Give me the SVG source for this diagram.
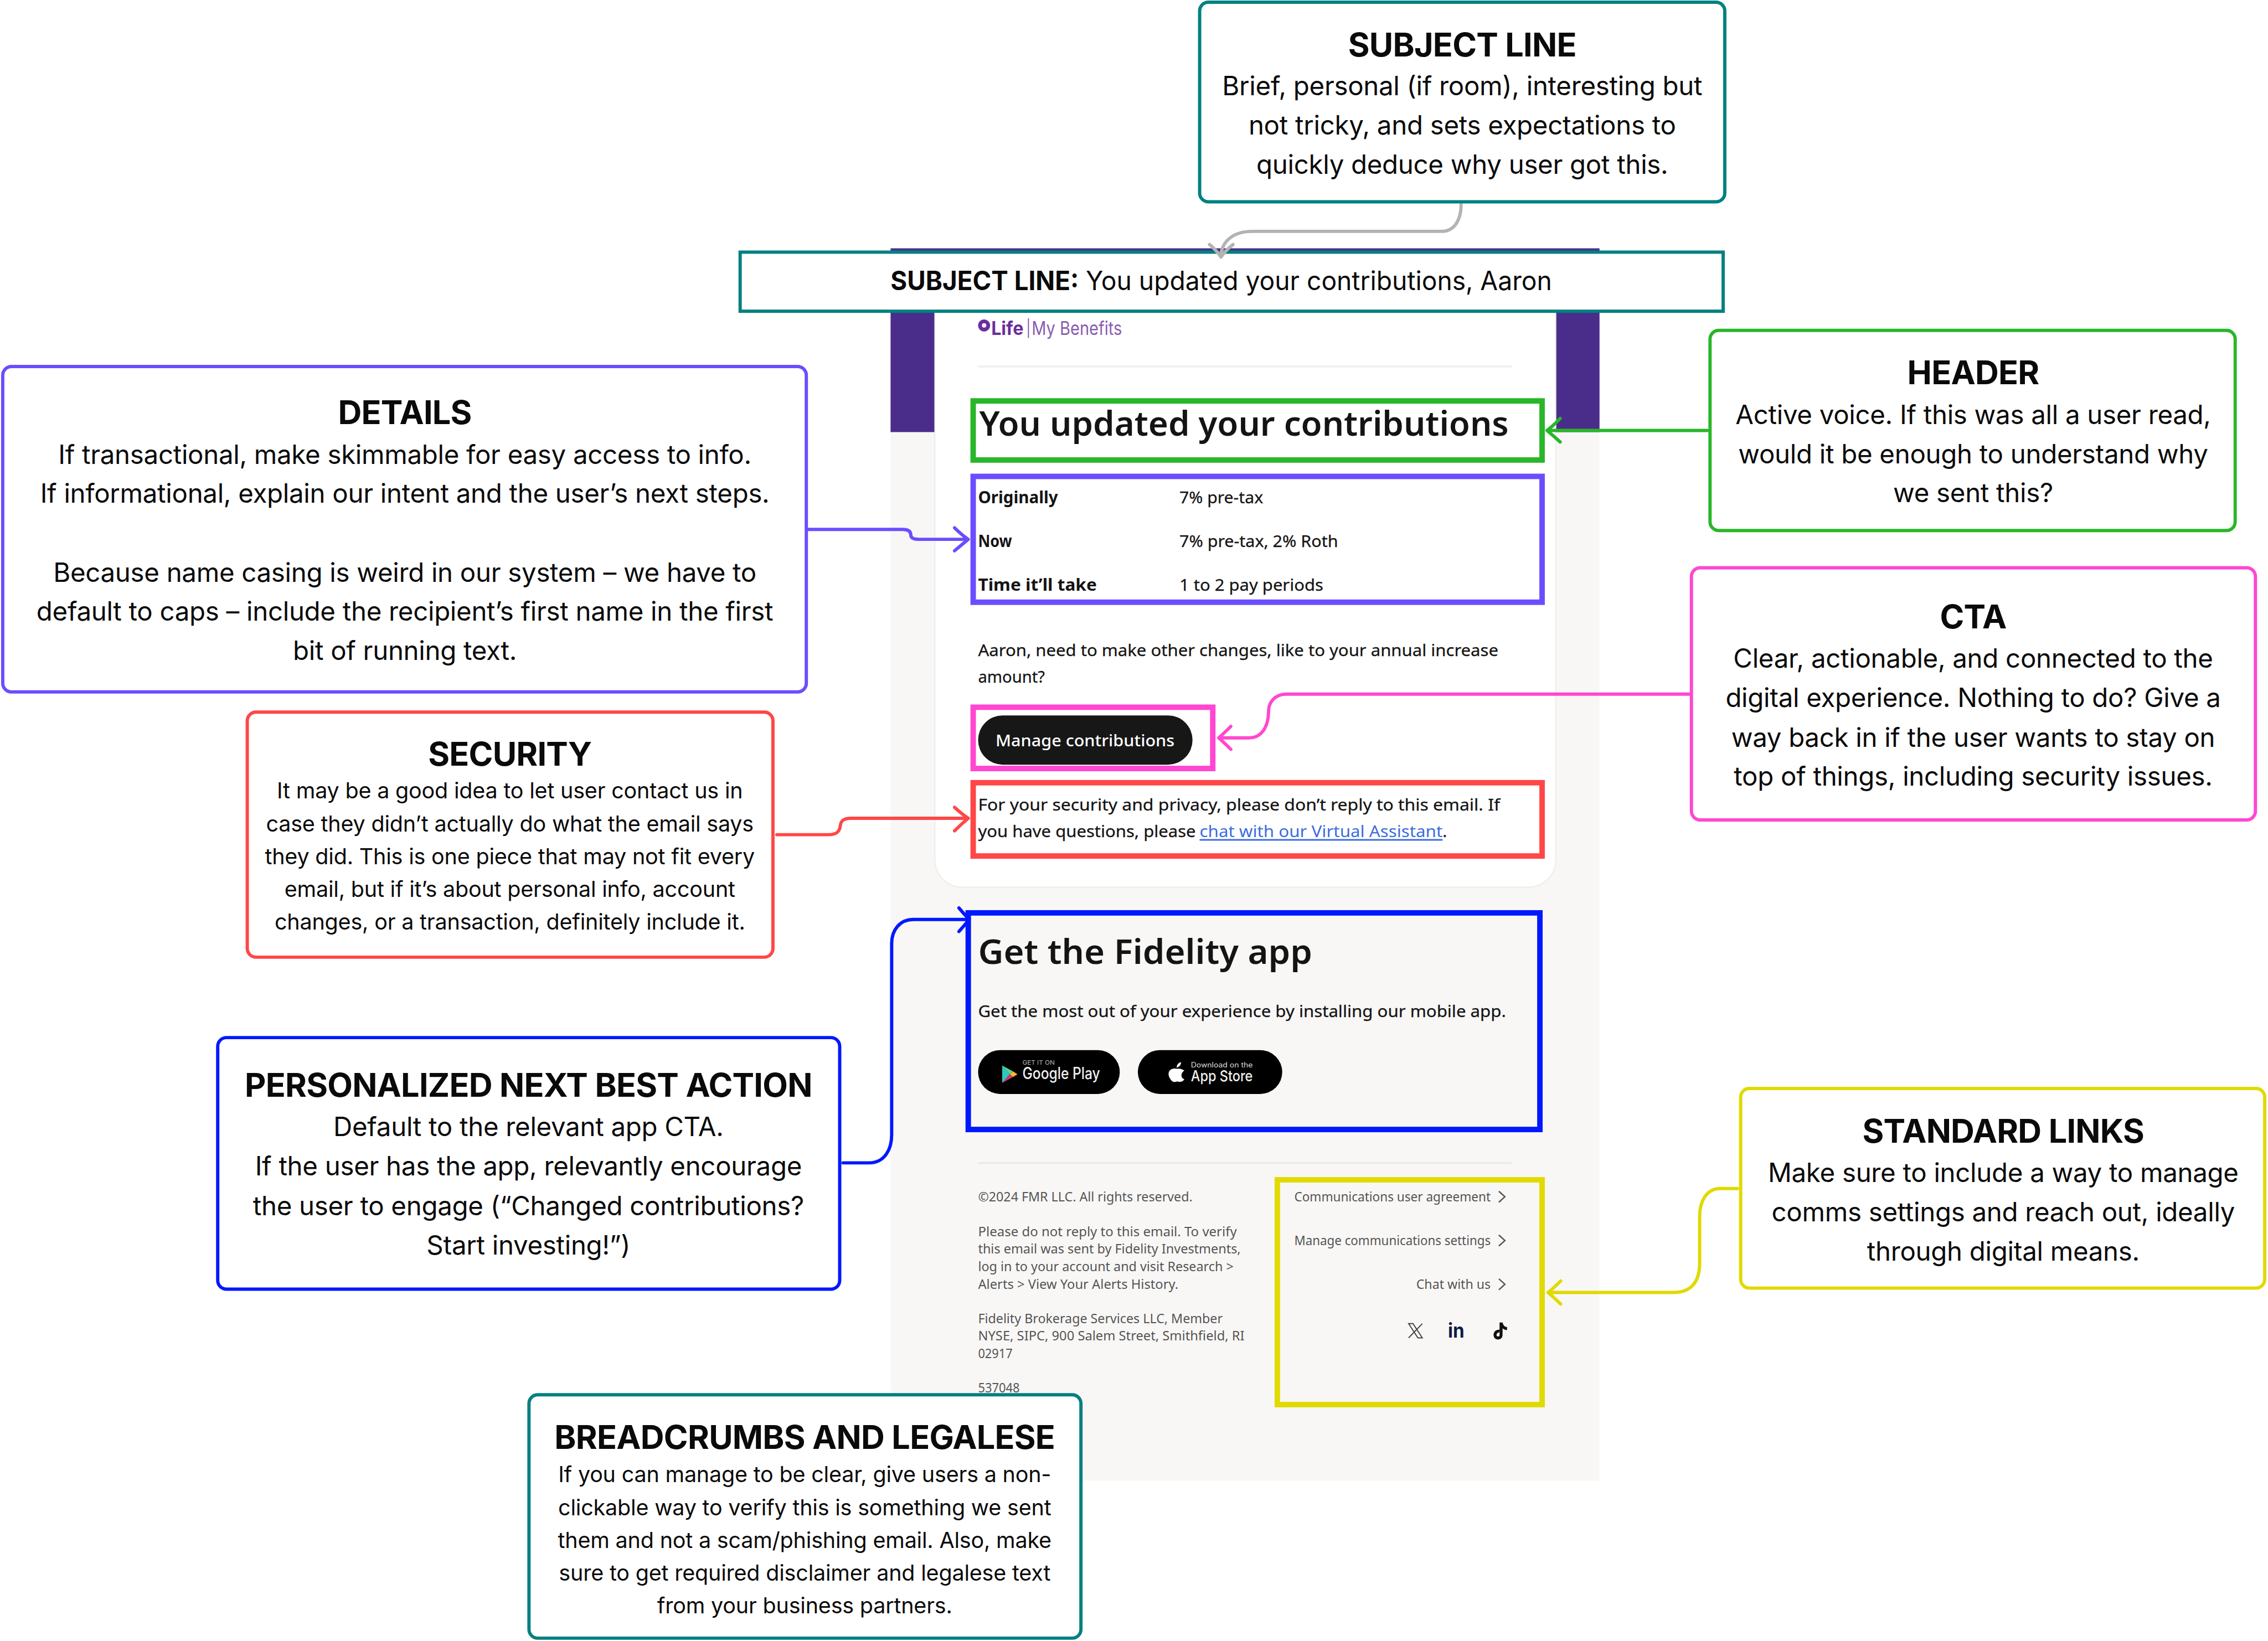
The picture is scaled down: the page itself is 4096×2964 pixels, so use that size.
<svg xmlns="http://www.w3.org/2000/svg" width="4096" height="2964" viewBox="0 0 4096 2964">
<style>
.c{font-family:"Inter","Liberation Sans",sans-serif;fill:#0a0a0a;text-anchor:middle}
.t{font-size:60px;font-weight:700;letter-spacing:-.75px}
.b{font-size:48px;font-weight:400;letter-spacing:-.3px}
.s{font-size:40px;font-weight:400;letter-spacing:-.2px}
.e{font-family:"Noto Sans","DejaVu Sans",sans-serif;fill:#141414}
.h1{font-size:62px;font-weight:600}
.r{font-size:30px;stroke:#141414;stroke-width:.3px}
.rb{font-size:30px;font-weight:700}
.f{font-size:23px;fill:#555}
.box{fill:#fff;stroke-width:6}
.hl{fill:none;stroke-width:10}
.cn{fill:none;stroke-width:6;stroke-linecap:round;stroke-linejoin:round}
.chev{fill:none;stroke:#555;stroke-width:2.5}
</style>
<rect width="4096" height="2964" fill="#fff"/>
<g transform="scale(0.98794)">
<g id="email">
<rect x="1628" y="790" width="1296" height="1917" fill="#f8f7f6"/>
<rect x="1628" y="454" width="1296" height="336" fill="#4a2d8a"/>
<rect x="1709" y="500" width="1135" height="1122" rx="50" fill="#fff" stroke="#ececec" stroke-width="2"/>
<g id="logo">
<circle cx="1799" cy="595" r="11" fill="#6a2f9e"/>
<circle cx="1799" cy="595" r="4" fill="#fff"/>
<text x="1812" y="612" font-family="Inter,sans-serif" font-size="34" font-weight="700" fill="#6a2f9e" textLength="59" lengthAdjust="spacingAndGlyphs">Life</text>
<rect x="1879" y="582" width="2" height="36" fill="#8a5cb0"/>
<text x="1886" y="612" font-family="Inter,sans-serif" font-size="34" fill="#8a5cb0" textLength="165" lengthAdjust="spacingAndGlyphs">My Benefits</text>
</g>
<rect x="1788" y="668" width="976" height="4" fill="#f0f0f0"/>
<text class="e h1" x="1790" y="797" textLength="968" lengthAdjust="spacingAndGlyphs">You updated your contributions</text>
<text class="e rb" x="1788" y="920" textLength="146" lengthAdjust="spacingAndGlyphs">Originally</text>
<text class="e r" x="2156" y="920" textLength="153" lengthAdjust="spacingAndGlyphs">7% pre-tax</text>
<text class="e rb" x="1788" y="1000" textLength="62" lengthAdjust="spacingAndGlyphs">Now</text>
<text class="e r" x="2156" y="1000" textLength="290" lengthAdjust="spacingAndGlyphs">7% pre-tax, 2% Roth</text>
<text class="e rb" x="1788" y="1080" textLength="217" lengthAdjust="spacingAndGlyphs">Time it’ll take</text>
<text class="e r" x="2156" y="1080" textLength="263" lengthAdjust="spacingAndGlyphs">1 to 2 pay periods</text>
<text class="e r" x="1788" y="1199" textLength="951" lengthAdjust="spacingAndGlyphs">Aaron, need to make other changes, like to your annual increase</text>
<text class="e r" x="1788" y="1248" textLength="122" lengthAdjust="spacingAndGlyphs">amount?</text>
<rect x="1788" y="1308" width="392" height="90" rx="45" fill="#171717"/>
<text class="e" font-size="30" x="1820" y="1364" style="fill:#fff;font-weight:500" textLength="327" lengthAdjust="spacingAndGlyphs">Manage contributions</text>
<text class="e r" x="1788" y="1482" textLength="954" lengthAdjust="spacingAndGlyphs">For your security and privacy, please don’t reply to this email. If</text>
<text class="e r" x="1788" y="1530" textLength="398" lengthAdjust="spacingAndGlyphs">you have questions, please</text>
<text class="e" font-size="30" x="2193" y="1530" style="fill:#3b6ce0" textLength="444" lengthAdjust="spacingAndGlyphs">chat with our Virtual Assistant</text>
<text class="e r" x="2637" y="1530">.</text>
<rect x="2193" y="1534" width="444" height="3" fill="#3b6ce0"/>
<text class="e h1" x="1788" y="1762" textLength="611" lengthAdjust="spacingAndGlyphs">Get the Fidelity app</text>
<text class="e r" x="1788" y="1859" textLength="965" lengthAdjust="spacingAndGlyphs">Get the most out of your experience by installing our mobile app.</text>
<g id="google-play">
<rect x="1788" y="1920" width="259" height="80" rx="40" fill="#000"/>
<polygon points="1832,1948 1846,1964 1832,1980" fill="#2fc7c0"/>
<polygon points="1832,1948 1852,1959 1846,1964" fill="#5fd38a"/>
<polygon points="1832,1980 1852,1969 1846,1964" fill="#d1356a"/>
<polygon points="1852,1959 1860,1964 1852,1969 1846,1964" fill="#f7b731"/>
<text x="1869" y="1946" font-family="Inter,sans-serif" font-size="11" fill="#bbb" textLength="59" lengthAdjust="spacingAndGlyphs">GET IT ON</text>
<text x="1869" y="1973" font-family="Inter,sans-serif" font-size="30" font-weight="500" fill="#eee" textLength="142" lengthAdjust="spacingAndGlyphs">Google Play</text>
</g>
<g id="app-store">
<rect x="2080" y="1920" width="264" height="80" rx="40" fill="#000"/>
<path d="M2152 1954C2157 1953 2161 1955 2165 1957C2158 1962 2158 1971 2165 1973C2162 1978 2158 1979 2152 1977C2147 1979 2143 1979 2139 1972C2132 1961 2139 1951 2152 1954ZM2151 1952C2151 1947 2154 1943 2159 1942C2159 1947 2156 1951 2151 1952Z" fill="#fff"/>
<text x="2177" y="1952" font-family="Inter,sans-serif" font-size="13" fill="#ddd" textLength="113" lengthAdjust="spacingAndGlyphs">Download on the</text>
<text x="2177" y="1977" font-family="Inter,sans-serif" font-size="28" font-weight="500" fill="#eee" textLength="113" lengthAdjust="spacingAndGlyphs">App Store</text>
</g>
<rect x="1788" y="2125" width="976" height="3" fill="#e8e8e6"/>
<text class="e f" x="1788" y="2196" textLength="392" lengthAdjust="spacingAndGlyphs">©2024 FMR LLC. All rights reserved.</text>
<text class="e f" x="1788" y="2260" textLength="473" lengthAdjust="spacingAndGlyphs">Please do not reply to this email. To verify</text>
<text class="e f" x="1788" y="2292" textLength="480" lengthAdjust="spacingAndGlyphs">this email was sent by Fidelity Investments,</text>
<text class="e f" x="1788" y="2324" textLength="467" lengthAdjust="spacingAndGlyphs">log in to your account and visit Research &gt;</text>
<text class="e f" x="1788" y="2356" textLength="366" lengthAdjust="spacingAndGlyphs">Alerts &gt; View Your Alerts History.</text>
<text class="e f" x="1788" y="2419" textLength="447" lengthAdjust="spacingAndGlyphs">Fidelity Brokerage Services LLC, Member</text>
<text class="e f" x="1788" y="2451" textLength="487" lengthAdjust="spacingAndGlyphs">NYSE, SIPC, 900 Salem Street, Smithfield, RI</text>
<text class="e f" x="1788" y="2483" textLength="63" lengthAdjust="spacingAndGlyphs">02917</text>
<text class="e f" x="1788" y="2546" textLength="76" lengthAdjust="spacingAndGlyphs">537048</text>
<text class="e f" x="2366" y="2196" textLength="359" lengthAdjust="spacingAndGlyphs">Communications user agreement</text>
<text class="e f" x="2366" y="2276" textLength="359" lengthAdjust="spacingAndGlyphs">Manage communications settings</text>
<text class="e f" x="2589" y="2356" textLength="136" lengthAdjust="spacingAndGlyphs">Chat with us</text>
<path class="chev" d="M2740 2178L2751 2188L2740 2198M2740 2258L2751 2268L2740 2278M2740 2338L2751 2348L2740 2358"/>
<path d="M2575 2420L2592 2446H2600L2583 2420ZM2600 2420L2575 2446" fill="none" stroke="#444" stroke-width="2"/>
<text x="2647" y="2446" font-family="Inter,sans-serif" font-size="36" font-weight="700" fill="#0c1b45" textLength="30" lengthAdjust="spacingAndGlyphs">in</text>
<path d="M2744 2418V2441C2744 2448 2733 2448 2733 2441C2733 2435 2738 2433 2741 2434M2744 2418C2745 2425 2750 2429 2755 2429" fill="none" stroke="#111" stroke-width="5.5"/>
</g>
<g id="highlights">
<rect class="hl" x="1779" y="733" width="1040" height="108" stroke="#29b629"/>
<rect class="hl" x="1779" y="871" width="1040" height="230" stroke="#6b4dff"/>
<rect class="hl" x="1779" y="1293" width="438" height="112" stroke="#ff47d1"/>
<rect class="hl" x="1779" y="1431" width="1040" height="134" stroke="#ff4747"/>
<rect class="hl" x="1770" y="1669" width="1045" height="396" stroke="#0018ff"/>
<rect class="hl" x="2335" y="2157" width="484" height="411" stroke="#e0da00"/>
</g>
<g id="subject-bar">
<rect x="1353" y="461" width="1797" height="108" fill="#fff" stroke="#008080" stroke-width="6"/>
<text x="1628" y="530" font-family="Inter,sans-serif" font-size="48" font-weight="700" fill="#0a0a0a" textLength="344" lengthAdjust="spacingAndGlyphs">SUBJECT LINE:</text>
<text x="1985" y="530" font-family="Inter,sans-serif" font-size="48" fill="#0a0a0a" textLength="852" lengthAdjust="spacingAndGlyphs">You updated your contributions, Aaron</text>
</g>
<g id="connectors">
<path class="cn" stroke="#b3b3b3" d="M2671 374C2671 400 2660 423 2635 423L2290 423C2250 423 2232 445 2232 470M2211 447Q2224 458 2232 470Q2240 458 2254 447"/>
<path class="cn" stroke="#29b629" d="M3121 787L2828 787M2852 765Q2840 778 2828 787Q2840 797 2852 808"/>
<path class="cn" stroke="#6b4dff" d="M1478 968L1650 968C1662 968 1665 973 1665 978C1665 984 1670 986 1680 986L1770 986M1745 965Q1758 978 1770 986Q1758 996 1745 1007"/>
<path class="cn" stroke="#ff47d1" d="M3088 1269L2351 1269C2330 1269 2319 1285 2319 1300C2319 1330 2305 1349 2284 1349L2228 1349M2250 1328Q2238 1340 2228 1349Q2238 1358 2250 1370"/>
<path class="cn" stroke="#ff4747" d="M1420 1526L1515 1526C1530 1526 1535 1520 1536 1510C1537 1500 1543 1496 1555 1496L1770 1496M1745 1476Q1758 1488 1770 1496Q1758 1506 1745 1519"/>
<path class="cn" stroke="#0018ff" d="M1541 2126L1589 2126C1618 2126 1630 2100 1630 2075L1630 1725C1630 1700 1645 1681 1670 1681L1772 1681M1753 1660Q1763 1672 1772 1681Q1763 1692 1753 1703"/>
<path class="cn" stroke="#e0da00" d="M3176 2173L3145 2173C3120 2173 3107 2195 3107 2225L3107 2310C3107 2345 3090 2363 3060 2363L2830 2363M2853 2342Q2840 2355 2830 2363Q2840 2372 2853 2384"/>
</g>
<g id="subject-line">
<rect class="box" x="2193" y="4" width="960" height="365" rx="16" stroke="#008080"/>
<text class="c t" x="2673" y="103">SUBJECT LINE</text>
<text class="c b" x="2673" y="174">Brief, personal (if room), interesting but</text>
<text class="c b" x="2673" y="246">not tricky, and sets expectations to</text>
<text class="c b" x="2673" y="318">quickly deduce why user got this.</text>
</g>
<g id="header">
<rect class="box" x="3126" y="604" width="960" height="366" rx="16" stroke="#29b629"/>
<text class="c t" x="3607" y="702">HEADER</text>
<text class="c b" x="3607" y="775">Active voice. If this was all a user read,</text>
<text class="c b" x="3607" y="847">would it be enough to understand why</text>
<text class="c b" x="3607" y="918">we sent this?</text>
</g>
<g id="details">
<rect class="box" x="5" y="670" width="1469" height="595" rx="16" stroke="#6b4dff"/>
<text class="c t" x="740" y="775">DETAILS</text>
<text class="c b" x="740" y="848">If transactional, make skimmable for easy access to info.</text>
<text class="c b" x="740" y="919">If informational, explain our intent and the user’s next steps.</text>
<text class="c b" x="740" y="1064">Because name casing is weird in our system – we have to</text>
<text class="c b" x="740" y="1135">default to caps – include the recipient’s first name in the first</text>
<text class="c b" x="740" y="1207">bit of running text.</text>
</g>
<g id="cta">
<rect class="box" x="3092" y="1038" width="1031" height="461" rx="16" stroke="#ff47d1"/>
<text class="c t" x="3607" y="1149">CTA</text>
<text class="c b" x="3607" y="1221">Clear, actionable, and connected to the</text>
<text class="c b" x="3607" y="1293">digital experience. Nothing to do? Give a</text>
<text class="c b" x="3607" y="1365">way back in if the user wants to stay on</text>
<text class="c b" x="3607" y="1436">top of things, including security issues.</text>
</g>
<g id="security">
<rect class="box" x="452" y="1302" width="961" height="448" rx="16" stroke="#ff4747"/>
<text class="c t" x="932" y="1400">SECURITY</text>
<text class="c s" x="932" y="1460">It may be a good idea to let user contact us in</text>
<text class="c s" x="932" y="1520">case they didn’t actually do what the email says</text>
<text class="c s" x="932" y="1580">they did. This is one piece that may not fit every</text>
<text class="c s" x="932" y="1640">email, but if it’s about personal info, account</text>
<text class="c s" x="932" y="1700">changes, or a transaction, definitely include it.</text>
</g>
<g id="next-best-action">
<rect class="box" x="398" y="1897" width="1137" height="460" rx="16" stroke="#0018ff"/>
<text class="c t" x="966" y="2005">PERSONALIZED NEXT BEST ACTION</text>
<text class="c b" x="966" y="2077">Default to the relevant app CTA.</text>
<text class="c b" x="966" y="2149">If the user has the app, relevantly encourage</text>
<text class="c b" x="966" y="2222">the user to engage (“Changed contributions?</text>
<text class="c b" x="966" y="2294">Start investing!”)</text>
</g>
<g id="standard-links">
<rect class="box" x="3182" y="1990" width="958" height="365" rx="16" stroke="#e0da00"/>
<text class="c t" x="3662" y="2089">STANDARD LINKS</text>
<text class="c b" x="3662" y="2161">Make sure to include a way to manage</text>
<text class="c b" x="3662" y="2233">comms settings and reach out, ideally</text>
<text class="c b" x="3662" y="2305">through digital means.</text>
</g>
<g id="breadcrumbs">
<rect class="box" x="967" y="2550" width="1009" height="445" rx="16" stroke="#008080"/>
<text class="c t" x="1471" y="2649">BREADCRUMBS AND LEGALESE</text>
<text class="c s" x="1471" y="2710">If you can manage to be clear, give users a non-</text>
<text class="c s" x="1471" y="2770">clickable way to verify this is something we sent</text>
<text class="c s" x="1471" y="2830">them and not a scam/phishing email. Also, make</text>
<text class="c s" x="1471" y="2890">sure to get required disclaimer and legalese text</text>
<text class="c s" x="1471" y="2950">from your business partners.</text>
</g>
</g>
</svg>
